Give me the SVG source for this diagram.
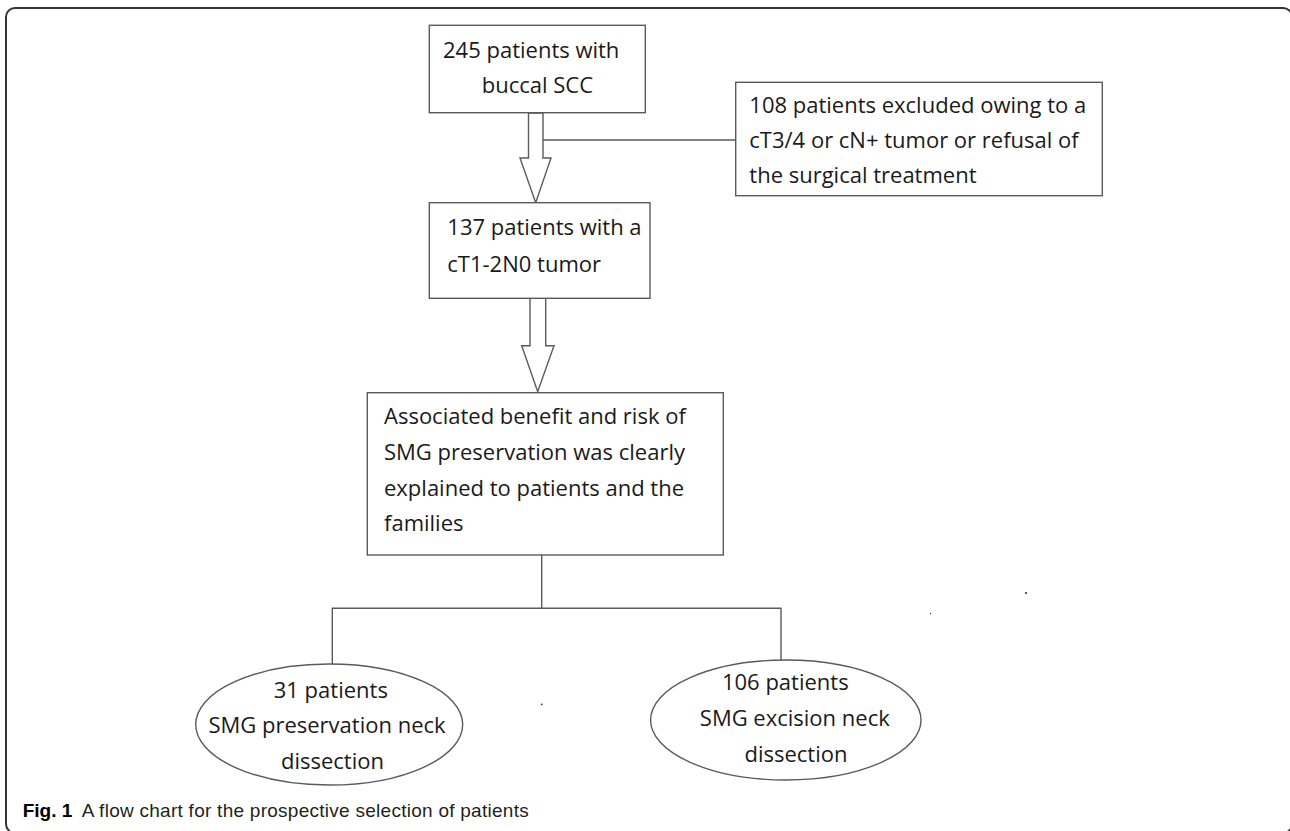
<svg xmlns="http://www.w3.org/2000/svg" width="1290" height="831" viewBox="0 0 1290 831">
<style>
.bg{fill:#ffffff}
.frame{fill:none;stroke:#333333;stroke-width:2}
.box{fill:#ffffff;stroke:#5a5a5a;stroke-width:1.4}
.ln{fill:none;stroke:#5a5a5a;stroke-width:1.4}
.t{font-family:"Open Sans","Noto Sans","DejaVu Sans",sans-serif;font-size:22px;fill:#1a1a1a}
.c{text-anchor:middle}
.cap{font-family:"Liberation Sans","Arial",sans-serif;font-size:19px;fill:#231f20}
.capb{font-family:"Liberation Sans","Arial",sans-serif;font-size:19px;font-weight:bold;fill:#000000}
.dot{fill:#333333}
</style>
<rect class="bg" x="0" y="0" width="1290" height="831"/>
<rect class="frame" x="6" y="8" width="1286" height="825" rx="9" ry="9"/>

<g id="connectors">
  <polygon class="box" points="528.5,113 543,113 543,158 551,158 535.7,202.7 520,158 528.5,158"/>
  <polyline class="ln" points="543,140 735.7,140"/>
  <polygon class="box" points="530,298.3 545.7,298.3 545.7,345.7 554,345.7 537.7,391.7 521.7,345.7 530,345.7"/>
  <polyline class="ln" points="541.7,555 541.7,608.3"/>
  <polyline class="ln" points="332.3,664 332.3,608.3 781,608.3 781,660"/>
</g>

<g id="n245">
  <rect class="box" x="429.3" y="25.3" width="216" height="87.4"/>
  <text class="t" x="443" y="58">245 patients with</text>
  <text class="t" x="481.7" y="93">buccal SCC</text>
</g>

<g id="n108">
  <rect class="box" x="735.7" y="82.3" width="366.6" height="113.4"/>
  <text class="t" x="749.3" y="112.7">108 patients excluded owing to a</text>
  <text class="t" x="749.3" y="148.3">cT3/4 or cN+ tumor or refusal of</text>
  <text class="t" x="749.3" y="183.3">the surgical treatment</text>
</g>

<g id="n137">
  <rect class="box" x="429.3" y="202.7" width="220.7" height="95.6"/>
  <text class="t" x="447.3" y="235">137 patients with a</text>
  <text class="t" x="447.3" y="271.7">cT1-2N0 tumor</text>
</g>

<g id="nAssoc">
  <rect class="box" x="367.3" y="392.7" width="356" height="162.3"/>
  <text class="t" x="384" y="424">Associated benefit and risk of</text>
  <text class="t" x="384" y="460">SMG preservation was clearly</text>
  <text class="t" x="384" y="495.5">explained to patients and the</text>
  <text class="t" x="384" y="531">families</text>
</g>

<g id="n31">
  <ellipse class="box" cx="329.2" cy="724.5" rx="133.5" ry="60.5"/>
  <text class="t c" x="330.8" y="698.3">31 patients</text>
  <text class="t c" x="327" y="733.3">SMG preservation neck</text>
  <text class="t c" x="332.5" y="769">dissection</text>
</g>

<g id="n106">
  <ellipse class="box" cx="785.8" cy="720" rx="135.2" ry="60"/>
  <text class="t c" x="785.3" y="690">106 patients</text>
  <text class="t c" x="794.8" y="725.7">SMG excision neck</text>
  <text class="t c" x="796" y="761.7">dissection</text>
</g>

<g id="dots">
  <circle class="dot" cx="541.7" cy="704.3" r="0.9"/>
  <circle class="dot" cx="930.5" cy="613.5" r="0.7"/>
  <circle class="dot" cx="1026" cy="593" r="1.1"/>
</g>

<g id="caption">
  <text class="capb" x="22.7" y="817">Fig. 1</text>
  <text class="cap" x="81.7" y="817" textLength="447" lengthAdjust="spacing">A flow chart for the prospective selection of patients</text>
</g>
</svg>
